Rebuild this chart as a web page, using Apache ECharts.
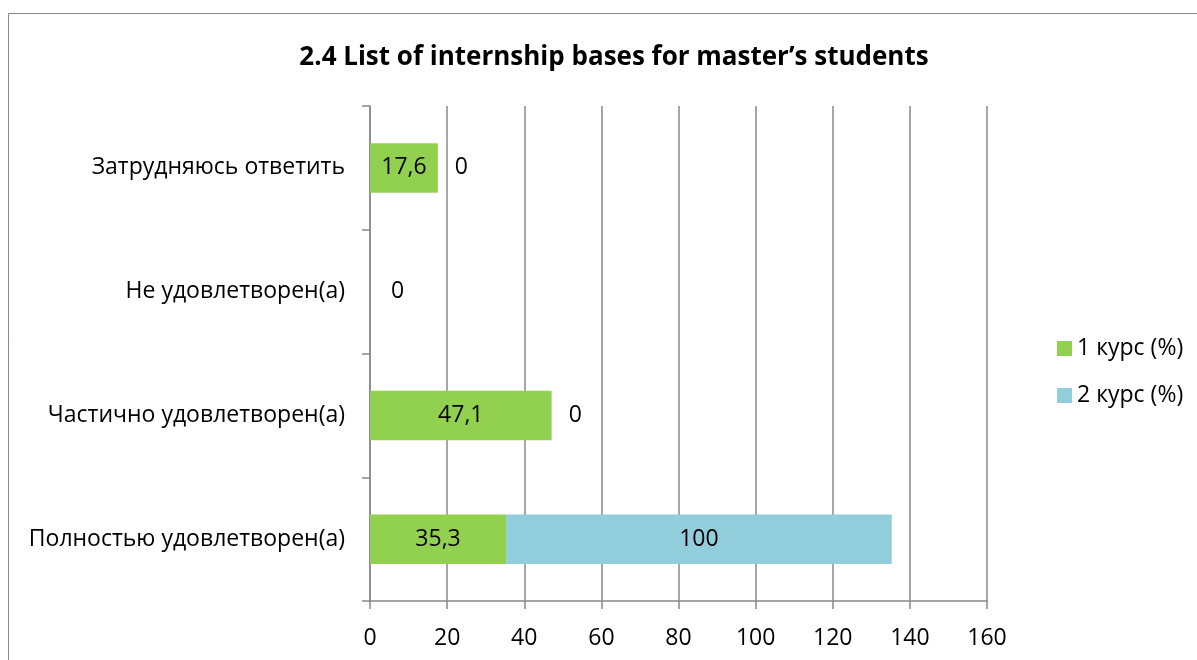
<!DOCTYPE html>
<html><head><meta charset="utf-8">
<script src="https://cdn.jsdelivr.net/npm/echarts@6/dist/echarts.min.js"></script>
<style>html,body{margin:0;padding:0;background:#fff}#c{width:1197px;height:660px}</style>
</head><body><div id="c"></div>
<script>
const categories = ['Полностью удовлетворен(а)', 'Частично удовлетворен(а)', 'Не удовлетворен(а)', 'Затрудняюсь ответить'];
const course1 = [35.3, 47.1, 0, 17.6];
const course2 = [100, 0, 0, 0];
const seriesNames = ['1 курс (%)', '2 курс (%)'];
const xTicks = [0, 20, 40, 60, 80, 100, 120, 140, 160];

const FONT = 'Open Sans';
const FS = 23;
const fmt = v => String(v).replace('.', ',');
const chart = echarts.init(document.getElementById('c'), null, {renderer: 'canvas'});
const gray = '#888888';

const s1data = course1.map(v => v === 0 ? {value: v, label: {show: false}} : v);
const s2data = course2.map((v, i) => v === 0
  ? {value: v, label: {position: 'right', distance: course1[i] === 0 ? 21 : 17}}
  : v);

chart.setOption({
  animation: false,
  textStyle: {fontFamily: FONT},
  graphic: [{type: 'rect', shape: {x: 8.5, y: 13.5, width: 1300, height: 800}, style: {fill: 'none', stroke: '#868686', lineWidth: 1}}],
  title: {text: '2.4 List of internship bases for master’s students', left: 609, textAlign: 'center', top: 40,
    textStyle: {fontFamily: FONT, fontSize: 26, fontWeight: 'bold', color: '#000'}},
  legend: {orient: 'vertical', left: 1052, top: 332, itemWidth: 15, itemHeight: 15, itemGap: 24,
    icon: 'rect', textStyle: {fontFamily: FONT, fontSize: FS, color: '#000', padding: [0, 0, 0, 0]},
    data: seriesNames},
  grid: {left: 370, right: 210, top: 106, bottom: 59, containLabel: false},
  xAxis: {type: 'value', min: xTicks[0], max: xTicks[xTicks.length - 1], interval: 20,
    axisLine: {show: true, lineStyle: {color: gray, width: 1.5}},
    axisTick: {show: true, length: 8, lineStyle: {color: gray, width: 1.5}},
    splitLine: {show: true, lineStyle: {color: gray, width: 1.5}},
    axisLabel: {color: '#000', fontSize: FS, margin: 26, fontFamily: FONT}},
  yAxis: {type: 'category', data: categories,
    axisLine: {show: true, lineStyle: {color: gray, width: 1.5}},
    axisTick: {show: true, length: 8, lineStyle: {color: gray, width: 1.5}},
    axisLabel: {color: '#000', fontSize: FS, margin: 25, fontFamily: FONT}},
  series: [
    {name: seriesNames[0], type: 'bar', stack: 'a', data: s1data, barCategoryGap: '60%',
      itemStyle: {color: '#92D050'},
      label: {show: true, position: 'inside', color: '#000', fontSize: FS, fontFamily: FONT, formatter: p => fmt(p.value)}},
    {name: seriesNames[1], type: 'bar', stack: 'a', data: s2data, barCategoryGap: '60%',
      itemStyle: {color: '#92CDDC'},
      label: {show: true, position: 'inside', color: '#000', fontSize: FS, fontFamily: FONT, formatter: p => fmt(p.value)}}
  ]
});
</script></body></html>
